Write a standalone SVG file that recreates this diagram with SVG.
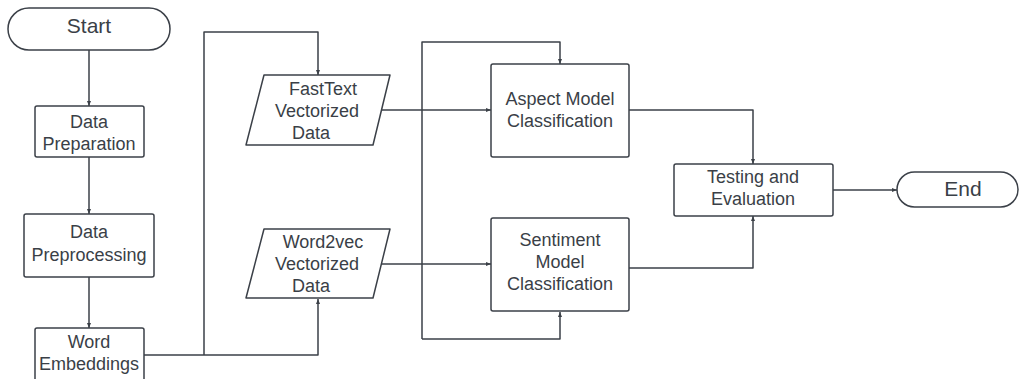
<svg xmlns="http://www.w3.org/2000/svg" width="1019" height="379" viewBox="0 0 1019 379">
<style>
.shape{fill:#ffffff;stroke:#3b4048;stroke-width:1.5}
.t{font-family:"Liberation Sans",Arial,sans-serif;font-size:18px;fill:#3a3f47;text-anchor:middle}
.big{font-size:21px}
.c{fill:none;stroke:#3b4048;stroke-width:1.5;stroke-linejoin:round;marker-end:url(#ah)}
.n{fill:none;stroke:#3b4048;stroke-width:1.5;stroke-linejoin:round}
</style>
<defs>
<marker id="ah" viewBox="0 0 10 10" refX="10" refY="5" markerWidth="5" markerHeight="5" markerUnits="userSpaceOnUse" orient="auto">
<path d="M0,1 L10,5 L0,9 Z" fill="#3b4048"/>
</marker>
</defs>
<rect width="1019" height="379" fill="#ffffff"/>
<g id="connectors">
<path class="c" d="M89,50 V106"/>
<path class="c" d="M89,157 V214"/>
<path class="c" d="M89,277 V328"/>
<path class="c" d="M144,355 H318 V299"/>
<path class="c" d="M204,355 V32 H318 V75"/>
<path class="c" d="M381,110 H491"/>
<path class="c" d="M382,264 H491"/>
<path class="c" d="M422,339 V42 H560 V64"/>
<path class="c" d="M422,339 H560 V312"/>
<path class="c" d="M629,110 H753 V164"/>
<path class="c" d="M629,268 H753 V216"/>
<path class="c" d="M833,190 H897"/>
</g>
<g id="start">
<rect class="shape" x="8" y="8" width="162" height="42" rx="21"/>
<text class="t big" x="89" y="33">Start</text>
</g>
<g id="data-preparation">
<rect class="shape" x="35" y="106" width="109" height="51" rx="2"/>
<text class="t" x="89" y="128">Data</text>
<text class="t" x="89" y="150">Preparation</text>
</g>
<g id="data-preprocessing">
<rect class="shape" x="24" y="214" width="130" height="63" rx="2"/>
<text class="t" x="89" y="238">Data</text>
<text class="t" x="89" y="261">Preprocessing</text>
</g>
<g id="word-embeddings">
<rect class="shape" x="35" y="328" width="109" height="70" rx="2"/>
<text class="t" x="89" y="348">Word</text>
<text class="t" x="89" y="370">Embeddings</text>
</g>
<g id="fasttext">
<polygon class="shape" points="264,75 390,75 373,145 246,145" stroke-linejoin="round"/>
<text class="t" x="323" y="95">FastText</text>
<text class="t" x="317" y="117">Vectorized</text>
<text class="t" x="311" y="139">Data</text>
</g>
<g id="word2vec">
<polygon class="shape" points="264,229 390,229 373,298 246,298" stroke-linejoin="round"/>
<text class="t" x="323" y="248">Word2vec</text>
<text class="t" x="317" y="270">Vectorized</text>
<text class="t" x="311" y="292">Data</text>
</g>
<g id="aspect">
<rect class="shape" x="491" y="64" width="138" height="93" rx="2"/>
<text class="t" x="560" y="105">Aspect Model</text>
<text class="t" x="560" y="127">Classification</text>
</g>
<g id="sentiment">
<rect class="shape" x="491" y="218" width="138" height="93" rx="2"/>
<text class="t" x="560" y="246">Sentiment</text>
<text class="t" x="560" y="268">Model</text>
<text class="t" x="560" y="290">Classification</text>
</g>
<g id="testing">
<rect class="shape" x="674" y="164" width="159" height="52" rx="2"/>
<text class="t" x="753" y="183">Testing and</text>
<text class="t" x="753" y="205">Evaluation</text>
</g>
<g id="end">
<rect class="shape" x="897" y="172" width="121" height="35" rx="17.5"/>
<text class="t big" x="963" y="196">End</text>
</g>
</svg>
